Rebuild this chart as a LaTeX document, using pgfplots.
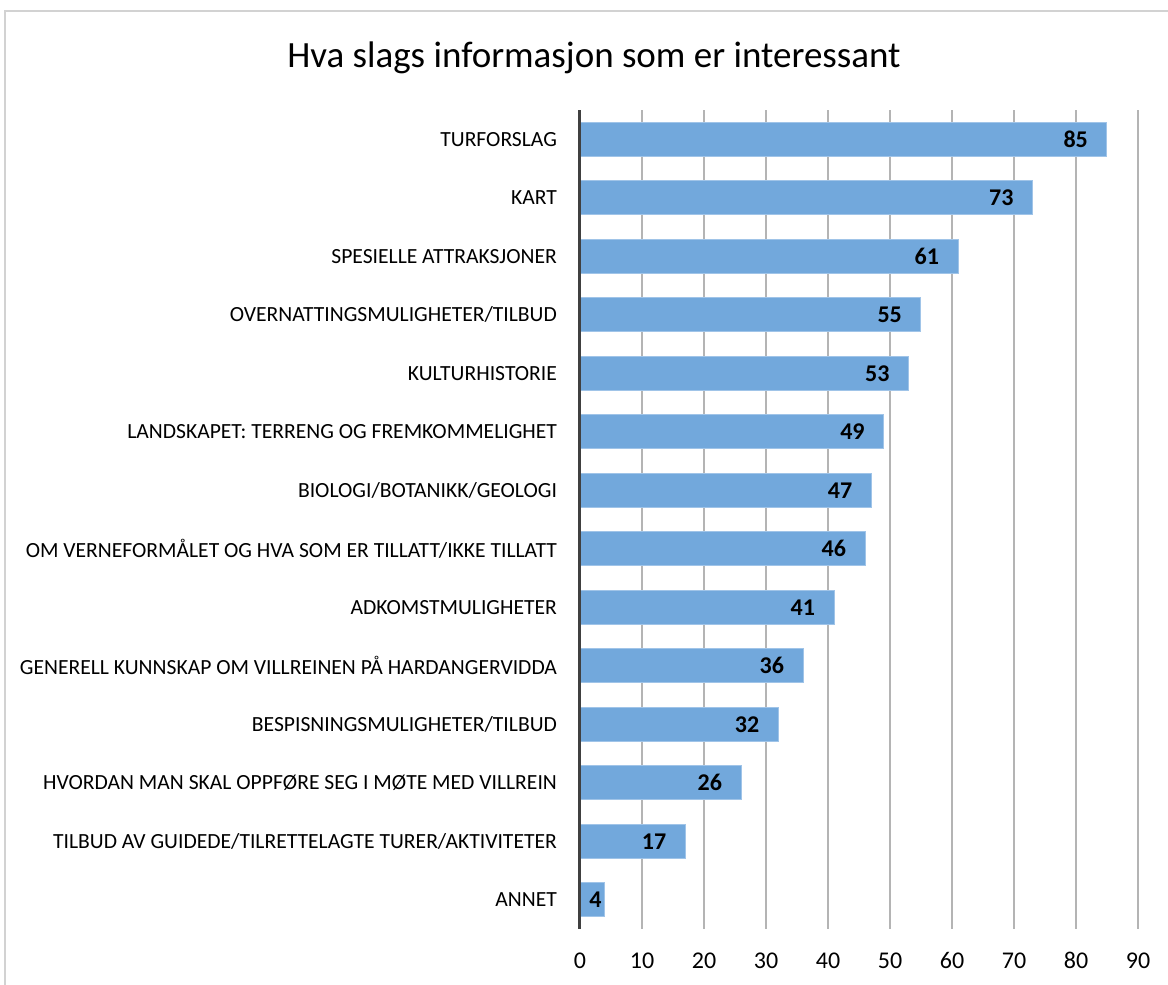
\documentclass[border=0pt]{standalone}
\usepackage{pgfplots}
\pgfplotsset{compat=1.18}
\usepackage{fontspec}
\setmainfont{Carlito}
\definecolor{barblue}{RGB}{114,168,220}
\definecolor{baredge}{RGB}{160,196,232}
\definecolor{gridgray}{RGB}{180,180,180}
\definecolor{framegray}{RGB}{210,210,210}

\begin{document}
\begin{tikzpicture}
  % canvas: 1168 x 985 px, 1 px = 0.5pt, y upwards
  \useasboundingbox (0pt,0pt) rectangle (584pt,492.5pt);
  \draw[framegray, line width=1pt] (2.5pt,0pt) -- (2.5pt,487pt) -- (584pt,487pt);
  \node[font=\fontsize{18.5}{22}\selectfont] at (297pt,463.5pt) {Hva slags informasjon som er interessant};

  \begin{axis}[
      at={(290pt,28pt)}, anchor=south west,
      scale only axis,
      width=279pt, height=409.5pt,
      xbar, bar shift=0pt, bar width=17pt,
      xmin=0, xmax=90,
      ymin=-0.5, ymax=13.5,
      y dir=reverse,
      xtick={0,10,...,90},
      ytick={0,...,13},
      yticklabels={
        TURFORSLAG,
        KART,
        SPESIELLE ATTRAKSJONER,
        OVERNATTINGSMULIGHETER/TILBUD,
        KULTURHISTORIE,
        LANDSKAPET: TERRENG OG FREMKOMMELIGHET,
        BIOLOGI/BOTANIKK/GEOLOGI,
        OM VERNEFORMÅLET OG HVA SOM ER TILLATT/IKKE TILLATT,
        ADKOMSTMULIGHETER,
        GENERELL KUNNSKAP OM VILLREINEN PÅ HARDANGERVIDDA,
        BESPISNINGSMULIGHETER/TILBUD,
        HVORDAN MAN SKAL OPPFØRE SEG I MØTE MED VILLREIN,
        TILBUD AV GUIDEDE/TILRETTELAGTE TURER/AKTIVITETER,
        ANNET
      },
      axis line style={draw=none},
      major tick length=0pt,
      xmajorgrids,
      grid style={gridgray, line width=0.6pt},
      /pgf/number format/assume math mode=true,
      xticklabel style={font=\fontsize{12}{14}\selectfont, text height=8pt, text depth=0pt, yshift=-8pt},
      yticklabel style={font=\fontsize{10.8}{12}\selectfont, xshift=-8pt},
      nodes near coords,
      every node near coord/.append style={font=\bfseries\fontsize{12}{14}\selectfont, anchor=east, xshift=-6pt},
      clip=false,
    ]
    \addplot[fill=barblue, draw=baredge, line width=0.5pt] coordinates {
      (85,0) (73,1) (61,2) (55,3) (53,4) (49,5) (47,6)
      (46,7) (41,8) (36,9) (32,10) (26,11) (17,12)
    };
    \addplot[fill=barblue, draw=baredge, line width=0.5pt,
      every node near coord/.append style={xshift=8pt}] coordinates {
      (4,13)
    };
    \draw[black!75, line width=1.5pt] (axis cs:0,-0.5) -- (axis cs:0,13.5);
  \end{axis}
\end{tikzpicture}
\end{document}
